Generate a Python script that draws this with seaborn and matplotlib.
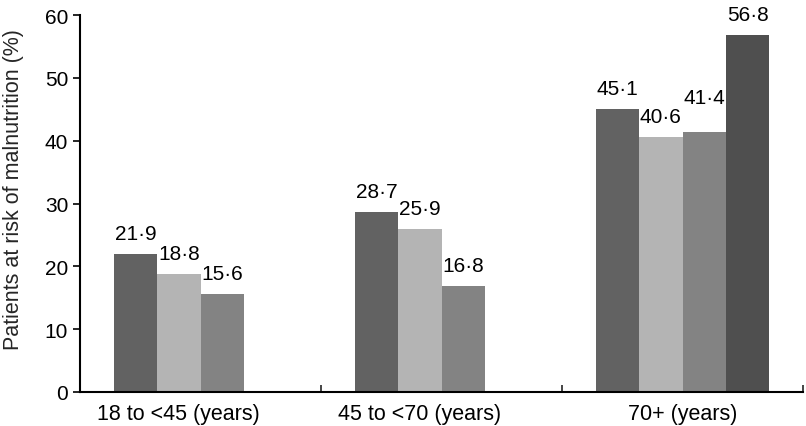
import numpy as np
import pandas as pd
import matplotlib
matplotlib.use("Agg")
import matplotlib.pyplot as plt
import seaborn as sns

# data
groups = ["18 to <45 (years)", "45 to <70 (years)", "70+ (years)"]
series_names = ["S1", "S2", "S3", "S4"]
s1 = [21.9, 28.7, 45.1]
s2 = [18.8, 25.9, 40.6]
s3 = [15.6, 16.8, 41.4]
s4 = [np.nan, np.nan, 56.8]
colors = ["#626262", "#b4b4b4", "#838383", "#4f4f4f"]

rows = []
for name, vals in zip(series_names, [s1, s2, s3, s4]):
    for g, v in zip(groups, vals):
        if not np.isnan(v):
            rows.append({"group": g, "series": name, "value": v})
df = pd.DataFrame(rows)

sns.set_style("ticks")
plt.rcParams["font.family"] = ["Liberation Sans", "DejaVu Sans"]

fig = plt.figure(figsize=(8.06, 4.27), dpi=100)
ax = fig.add_axes([80 / 806, 34 / 427, 723 / 806, 377 / 427])

sns.barplot(data=df, x="group", y="value", hue="series", order=groups,
            hue_order=series_names, palette=colors, width=0.72, gap=0,
            saturation=1, legend=False, ax=ax, errorbar=None, linewidth=0)

# value labels with middle dot
for cont in ax.containers:
    texts = ax.bar_label(cont, fmt=lambda v: f"{v:.1f}".replace(".", "·"),
                         padding=8, fontsize=15, color="black")
    for t in texts:
        # this one sits higher in the original
        if t.get_text() == "41·4":
            t.xyann = (0, 18)

ax.set_xlim(-0.5, 2.5)
ax.set_ylim(0, 60)
ax.set_yticks(np.arange(0, 61, 10))

# category labels centred under the bars actually drawn
centers = []
for i in range(len(groups)):
    xs = [p.get_x() + p.get_width() / 2 for p in ax.patches
          if abs(p.get_x() + p.get_width() / 2 - i) < 0.5 and p.get_height() > 0]
    centers.append(np.mean(xs))
ax.set_xticks(centers)
ax.set_xticklabels(groups)
ax.set_xlabel("")

ax.set_ylabel("Patients at risk of malnutrition (%)", fontsize=15.5)
ax.yaxis.set_label_coords(-0.077, 0.54)

ax.set_xticks([-0.5, 0.5, 1.5, 2.5], minor=True)
ax.tick_params(axis="x", which="major", length=0, labelsize=15.5, pad=8, colors="black")
ax.tick_params(axis="x", which="minor", direction="in", length=5, width=1.2)
ax.tick_params(axis="y", direction="out", length=5, width=1.2, labelsize=15, colors="black")

sns.despine(ax=ax)
for sp in ["left", "bottom"]:
    ax.spines[sp].set_linewidth(1.5)
    ax.spines[sp].set_color("black")

fig.savefig("out.png", dpi=100)
